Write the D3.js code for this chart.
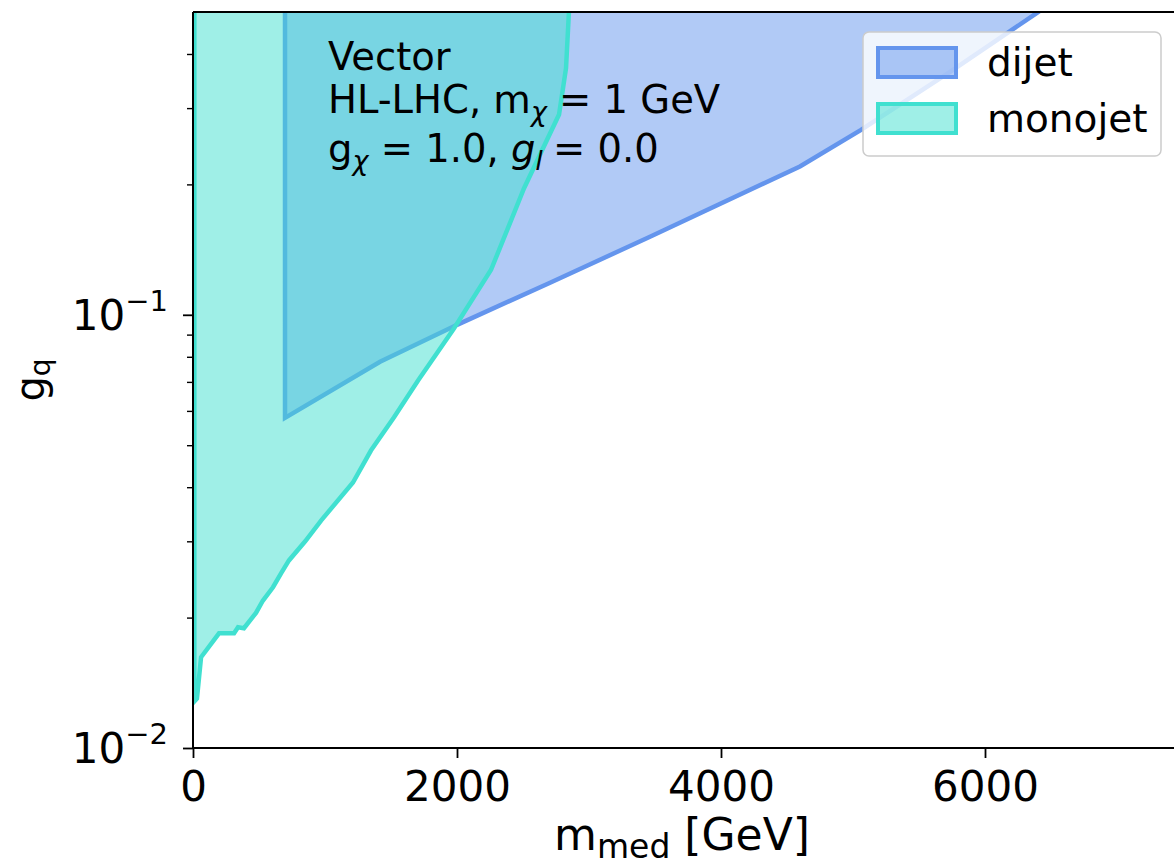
<!DOCTYPE html>
<html>
<head>
<meta charset="utf-8">
<script src="https://cdn.jsdelivr.net/npm/d3@7"></script>
<style>
html,body{margin:0;padding:0;background:#fff;}
svg{display:block;font-family:"DejaVu Sans",sans-serif;}
</style>
</head>
<body>
<svg id="chart" width="1174" height="861"></svg>
<script>
// ---- data ----
const xTicks = [0, 2000, 4000, 6000];
const yMajorTicks = [0.01, 0.1];
const yMinorTicks = [0.02,0.03,0.04,0.05,0.06,0.07,0.08,0.09,0.2,0.3,0.4];

// dijet exclusion polygon (m_med [GeV], g_q): vertical left edge then lower boundary
const dijetMass = [697, 697, 1417, 1970, 2000, 2705, 3462, 4598, 5061, 5735, 6394, 6560];
const dijetG    = [0.7, 0.0578, 0.0779, 0.0938, 0.0948, 0.1186, 0.1514, 0.220, 0.2673, 0.3639, 0.4977, 0.54];

// monojet exclusion polygon (m_med [GeV], g_q)
const monojetMass = [10, 10, 30, 61, 197, 311, 341, 386, 477, 530, 606, 667, 727, 850, 970, 1212, 1348, 1523, 1705, 1977, 2258, 2508, 2773, 2826, 2848, 2870];
const monojetG    = [0.7, 0.0128, 0.0130, 0.0162, 0.0184, 0.0184, 0.0190, 0.0189, 0.0205, 0.0219, 0.0235, 0.0253, 0.0271, 0.0300, 0.0335, 0.0410, 0.0486, 0.0580, 0.0705, 0.0930, 0.127, 0.196, 0.290, 0.371, 0.50, 0.6];

const seriesNames = ["dijet", "monojet"];
const seriesFill = ["#6495ED", "#40E0D0"];

// ---- layout ----
const svg = d3.select("#chart");
const L = 193, T = 12, B = 748, R = 1183;
const x = d3.scaleLinear().domain([0, 7500]).range([L, R]);
const y = d3.scaleLog().domain([0.01, 0.5]).range([B, T]);

const defs = svg.append("defs");
defs.append("clipPath").attr("id","clip").append("rect")
  .attr("x", L).attr("y", T).attr("width", R - L).attr("height", B - T);

const plot = svg.append("g").attr("clip-path","url(#clip)");
const line = d3.line().x(d => x(d[0])).y(d => y(d[1]));

const dijetPts = dijetMass.map((m,i) => [m, dijetG[i]]);
const monoPts = monojetMass.map((m,i) => [m, monojetG[i]]);

plot.append("path").datum(dijetPts)
  .attr("d", d => line(d) + "Z")
  .attr("fill", seriesFill[0]).attr("fill-opacity", 0.5)
  .attr("stroke", seriesFill[0]).attr("stroke-width", 4.5).attr("stroke-linejoin","miter");

plot.append("path").datum(monoPts)
  .attr("d", d => line(d) + "Z")
  .attr("fill", seriesFill[1]).attr("fill-opacity", 0.5)
  .attr("stroke", seriesFill[1]).attr("stroke-width", 4.5).attr("stroke-linejoin","miter");

// ---- axes ----
const FS = 38.5, AFS = 42;
const xAxis = d3.axisBottom(x).tickValues(xTicks).tickSize(10).tickPadding(13).tickFormat(d3.format("d"));
const gx = svg.append("g").attr("transform", `translate(0,${B})`).call(xAxis);
gx.select(".domain").remove();
gx.selectAll(".tick line").attr("stroke","#000").attr("stroke-width",1.8);
gx.selectAll(".tick text").attr("font-size", AFS).attr("fill","#000")
  .attr("font-family","DejaVu Sans");

const yAxis = d3.axisLeft(y).tickValues(yMajorTicks).tickSize(10).tickFormat("");
const gy = svg.append("g").attr("transform", `translate(${L},0)`).call(yAxis);
gy.select(".domain").remove();
gy.selectAll(".tick line").attr("stroke","#000").attr("stroke-width",1.8);
const yMinor = d3.axisLeft(y).tickValues(yMinorTicks).tickSize(6).tickFormat("");
const gym = svg.append("g").attr("transform", `translate(${L},0)`).call(yMinor);
gym.select(".domain").remove();
gym.selectAll(".tick line").attr("stroke","#000").attr("stroke-width",1.4);

// y tick labels 10^-n
yMajorTicks.forEach(v => {
  const e = Math.round(Math.log10(v));
  const t = svg.append("text").attr("x", 168).attr("y", y(v) + 15)
    .attr("text-anchor","end").attr("font-size", 42).attr("fill","#000");
  t.append("tspan").text("10");
  t.append("tspan").attr("font-size", 29).attr("dy", -19).text("\u2212" + Math.abs(e));
});

// spines: left, bottom, top
svg.append("line").attr("x1", L).attr("x2", L).attr("y1", T).attr("y2", B).attr("stroke","#000").attr("stroke-width",2);
svg.append("line").attr("x1", L).attr("x2", 1174).attr("y1", B).attr("y2", B).attr("stroke","#000").attr("stroke-width",2);
svg.append("line").attr("x1", L).attr("x2", 1174).attr("y1", T).attr("y2", T).attr("stroke","#000").attr("stroke-width",2);

// axis labels
const xl = svg.append("text").attr("x", 682).attr("y", 850).attr("text-anchor","middle")
  .attr("font-size", 44).attr("fill","#000");
xl.append("tspan").text("m");
xl.append("tspan").attr("font-size", 33).attr("dy", 8).text("med");
xl.append("tspan").attr("dy", -8).text(" [GeV]");

const yl = svg.append("text").attr("transform", `translate(44,${(T+B)/2}) rotate(-90)`)
  .attr("text-anchor","middle").attr("font-size", 40).attr("fill","#000");
yl.append("tspan").text("g");
yl.append("tspan").attr("font-size", 28).attr("dy", 6).text("q");

// annotation
const ann = svg.append("g").attr("font-size", FS).attr("fill","#000");
ann.append("text").attr("x", 328).attr("y", 70).text("Vector");
const a2 = ann.append("text").attr("x", 328).attr("y", 113);
a2.append("tspan").text("HL-LHC, m");
a2.append("tspan").attr("font-size", 27).attr("font-style","italic").attr("dy", 8).text("\u03c7");
a2.append("tspan").attr("dy", -8).text(" = 1 GeV");
const a3 = ann.append("text").attr("x", 328).attr("y", 162);
a3.append("tspan").text("g");
a3.append("tspan").attr("font-size", 27).attr("font-style","italic").attr("dy", 8).text("\u03c7");
a3.append("tspan").attr("dy", -8).text(" = 1.0, ");
a3.append("tspan").attr("font-style","italic").text("g");
a3.append("tspan").attr("font-size", 27).attr("font-style","italic").attr("dy", 8).text("l");
a3.append("tspan").attr("dy", -8).attr("dx", -2).text(" = 0.0");

// legend
const lg = svg.append("g");
lg.append("rect").attr("x", 863).attr("y", 32).attr("width", 298).attr("height", 124)
  .attr("rx", 6).attr("fill","#fff").attr("fill-opacity",0.8)
  .attr("stroke","#cccccc").attr("stroke-width",1.5);
seriesNames.forEach((n,i) => {
  const yy = 48 + i * 56;
  lg.append("rect").attr("x", 878).attr("y", yy).attr("width", 78).attr("height", 29)
    .attr("fill", seriesFill[i]).attr("fill-opacity",0.5)
    .attr("stroke", seriesFill[i]).attr("stroke-width",4);
  lg.append("text").attr("x", 987).attr("y", yy + 28).attr("font-size", 39).attr("fill","#000").text(n);
});
</script>
</body>
</html>
